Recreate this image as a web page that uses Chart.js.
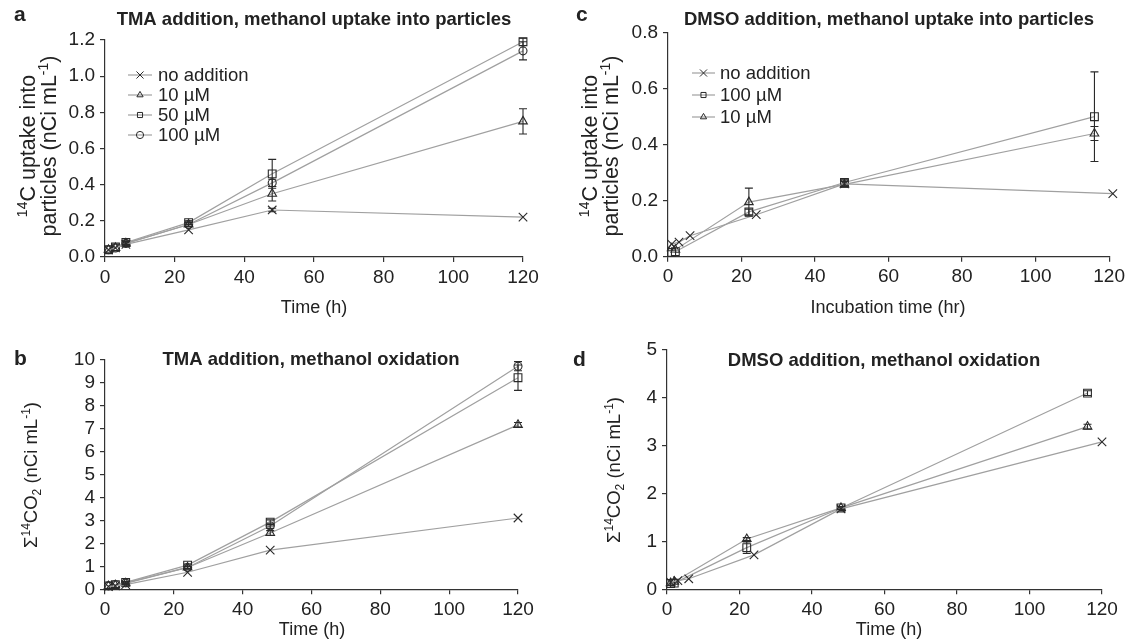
<!DOCTYPE html>
<html>
<head>
<meta charset="utf-8">
<script src="https://cdn.jsdelivr.net/npm/chart.js@4/dist/chart.umd.min.js"></script>
<style>
  html, body { margin: 0; padding: 0; background: #fff; }
  #wrap { position: relative; width: 1129px; height: 642px; }
  canvas { position: absolute; }
</style>
</head>
<body>
<div id="wrap">
  <canvas id="chartA" width="560" height="321" style="left:0;top:0"></canvas>
  <canvas id="chartC" width="569" height="321" style="left:560px;top:0"></canvas>
  <canvas id="chartB" width="560" height="321" style="left:0;top:321px"></canvas>
  <canvas id="chartD" width="569" height="321" style="left:560px;top:321px"></canvas>
</div>
<script>
// TMA experiments (panels a, b)
const tmaTimes = [1, 3, 6, 24, 48, 120];
const tmaUptakeNone = [0.04, 0.05, 0.07, 0.15, 0.26, 0.22];
const tmaUptakeNoneErr = [0, 0, 0, 0, 0.01, 0];
const tmaUptake10 = [0.04, 0.05, 0.075, 0.18, 0.35, 0.75];
const tmaUptake10Err = [0, 0, 0.01, 0.01, 0.04, 0.07];
const tmaUptake50 = [0.04, 0.055, 0.08, 0.19, 0.46, 1.19];
const tmaUptake50Err = [0, 0, 0.01, 0.01, 0.08, 0.02];
const tmaUptake100 = [0.04, 0.05, 0.075, 0.18, 0.41, 1.14];
const tmaUptake100Err = [0, 0, 0.01, 0.01, 0.02, 0.05];

const tmaOxNone = [0.12, 0.15, 0.2, 0.74, 1.7, 3.1];
const tmaOx10 = [0.14, 0.18, 0.26, 0.95, 2.45, 7.15];
const tmaOx10Err = [0, 0, 0.05, 0.05, 0.1, 0.1];
const tmaOx50 = [0.15, 0.2, 0.3, 1.05, 2.92, 9.2];
const tmaOx50Err = [0, 0, 0.05, 0.05, 0.1, 0.55];
const tmaOx100 = [0.15, 0.2, 0.28, 0.95, 2.75, 9.7];
const tmaOx100Err = [0, 0, 0.05, 0.05, 0.1, 0.2];

// DMSO experiments (panels c, d)
const noneTimes = [1, 3, 6, 24, 48, 121];
const noneTimesD = [1, 3, 6, 24, 48, 120];
const dmsoTimes = [1, 2, 22, 48, 116];
const dmsoUptakeNone = [0.045, 0.052, 0.075, 0.15, 0.26, 0.225];
const dmsoUptakeNoneErr = [0, 0, 0, 0, 0.01, 0];
const dmsoUptake100 = [0.015, 0.018, 0.16, 0.265, 0.50];
const dmsoUptake100Err = [0, 0, 0.01, 0.01, 0.16];
const dmsoUptake10 = [0.03, 0.025, 0.195, 0.258, 0.44];
const dmsoUptake10Err = [0, 0, 0.05, 0.01, 0.025];

const dmsoOxNone = [0.15, 0.18, 0.22, 0.72, 1.68, 3.08];
const dmsoOx100 = [0.12, 0.13, 0.87, 1.7, 4.1];
const dmsoOx100Err = [0, 0, 0.12, 0.03, 0.05];
const dmsoOx10 = [0.13, 0.16, 1.05, 1.7, 3.4];
const dmsoOx10Err = [0, 0, 0.03, 0.03, 0.05];

const FONT = '"Liberation Sans", Arial, Helvetica, sans-serif';
const LINE = 'rgb(160,160,160)';
const INK = '#2a2a2a';
const RADIUS = { crossRot: 6, triangle: 5, rect: 5.5, circle: 4 };

Chart.defaults.font.family = FONT;
Chart.defaults.color = '#222';

function series(label, times, values, errs, style) {
  return {
    label: label,
    data: times.map((t, i) => ({ x: t, y: values[i] })),
    errors: errs || [],
    borderColor: LINE,
    borderWidth: 1.2,
    pointStyle: style,
    pointRadius: RADIUS[style],
    pointBorderColor: INK,
    pointBorderWidth: 1.1,
    pointBackgroundColor: 'rgba(255,255,255,0)',
    tension: 0,
    clip: false
  };
}

function drawMarker(ctx, style, x, y, r) {
  ctx.beginPath();
  if (style === 'circle') {
    ctx.arc(x, y, r, 0, Math.PI * 2);
  } else if (style === 'rect') {
    const s = r * Math.SQRT1_2;
    ctx.rect(x - s, y - s, 2 * s, 2 * s);
  } else if (style === 'triangle') {
    for (let k = 0; k < 3; k++) {
      const a = -Math.PI / 2 + k * 2 * Math.PI / 3;
      const px = x + Math.cos(a) * r, py = y + Math.sin(a) * r;
      if (k === 0) ctx.moveTo(px, py); else ctx.lineTo(px, py);
    }
    ctx.closePath();
  } else {
    const d = r * Math.SQRT1_2;
    ctx.moveTo(x - d, y - d); ctx.lineTo(x + d, y + d);
    ctx.moveTo(x + d, y - d); ctx.lineTo(x - d, y + d);
  }
  ctx.stroke();
}

// text with super/subscript pieces, centred on x
function richText(ctx, parts, x, y, size) {
  const fontFor = p => (p.sup || p.sub ? Math.round(size * 0.65) : size) + 'px ' + FONT;
  let total = 0;
  parts.forEach(p => { ctx.font = fontFor(p); total += ctx.measureText(p.t).width; });
  let cx = x - total / 2;
  parts.forEach(p => {
    ctx.font = fontFor(p);
    const dy = p.sup ? -size * 0.38 : (p.sub ? size * 0.22 : 0);
    ctx.fillText(p.t, cx, y + dy);
    cx += ctx.measureText(p.t).width;
  });
}

const errorBars = {
  id: 'errorBars',
  afterDatasetsDraw(chart) {
    const ctx = chart.ctx;
    const xs = chart.scales.x, ys = chart.scales.y;
    ctx.save();
    ctx.strokeStyle = INK;
    ctx.lineWidth = 1.1;
    chart.data.datasets.forEach(ds => {
      ds.data.forEach((p, i) => {
        const e = ds.errors[i];
        if (!e) return;
        const x = xs.getPixelForValue(p.x);
        const y1 = ys.getPixelForValue(p.y + e);
        const y2 = ys.getPixelForValue(p.y - e);
        ctx.beginPath();
        ctx.moveTo(x, y1); ctx.lineTo(x, y2);
        ctx.moveTo(x - 4, y1); ctx.lineTo(x + 4, y1);
        ctx.moveTo(x - 4, y2); ctx.lineTo(x + 4, y2);
        ctx.stroke();
      });
    });
    ctx.restore();
  }
};

const deco = {
  id: 'deco',
  afterDraw(chart, args, o) {
    const ctx = chart.ctx;
    ctx.save();
    ctx.fillStyle = '#222';
    ctx.textBaseline = 'alphabetic';
    // panel letter
    ctx.textAlign = 'left';
    ctx.font = 'bold 21px ' + FONT;
    ctx.fillText(o.letter, o.letterX, o.letterY);
    // title
    ctx.textAlign = 'center';
    ctx.font = 'bold 18.5px ' + FONT;
    ctx.fillText(o.title, o.titleX, o.titleY);
    // x axis title
    ctx.font = '18px ' + FONT;
    ctx.fillText(o.xTitle, o.xTitleX, o.xTitleY);
    // y axis title, rotated
    ctx.textAlign = 'left';
    o.yLines.forEach((parts, i) => {
      ctx.save();
      ctx.translate(o.yTitleX[i], o.yTitleY);
      ctx.rotate(-Math.PI / 2);
      richText(ctx, parts, 0, 0, o.yTitleSize);
      ctx.restore();
    });
    // legend
    if (o.legend) {
      const L = o.legend;
      L.items.forEach((it, i) => {
        const y = L.y + i * L.step;
        ctx.strokeStyle = LINE;
        ctx.lineWidth = 1.2;
        ctx.beginPath();
        ctx.moveTo(L.x1, y); ctx.lineTo(L.x2, y);
        ctx.stroke();
        ctx.strokeStyle = INK;
        ctx.lineWidth = 1;
        drawMarker(ctx, it.style, (L.x1 + L.x2) / 2, y, it.style === 'crossRot' ? 5 : 3.6);
        ctx.fillStyle = '#222';
        ctx.font = '18.5px ' + FONT;
        ctx.textBaseline = 'middle';
        ctx.fillText(it.label, L.tx, y + 1);
      });
    }
    ctx.restore();
  }
};

function makeChart(id, datasets, cfg) {
  return new Chart(document.getElementById(id), {
    type: 'line',
    data: { datasets: datasets },
    options: {
      responsive: false,
      animation: false,
      layout: { padding: cfg.pad },
      plugins: {
        legend: { display: false },
        tooltip: { enabled: false },
        deco: cfg.deco
      },
      scales: {
        x: {
          type: 'linear', min: 0, max: 120,
          ticks: { stepSize: 20, font: { size: 19 }, color: '#222', padding: 4, maxRotation: 0, autoSkip: false },
          grid: { drawOnChartArea: false, tickLength: 5, color: '#333', lineWidth: 1.2 },
          border: { color: '#333', width: 1.2 },
          afterFit: s => { s.height = 30; }
        },
        y: {
          type: 'linear', min: 0, max: cfg.yMax,
          ticks: { stepSize: cfg.yStep, font: { size: 19 }, color: '#222', padding: 5, callback: cfg.fmt, autoSkip: false },
          grid: { drawOnChartArea: false, tickLength: 5, color: '#333', lineWidth: 1.2 },
          border: { color: '#333', width: 1.2 },
          afterFit: s => { s.width = 50; }
        }
      }
    },
    plugins: [errorBars, deco]
  });
}

const uptakeLines = [
  [{ t: '14', sup: true }, { t: 'C uptake into' }],
  [{ t: 'particles (nCi mL' }, { t: '-1', sup: true }, { t: ')' }]
];
const oxLine = [[{ t: '\u03A3' }, { t: '14', sup: true }, { t: 'CO' }, { t: '2', sub: true }, { t: ' (nCi mL' }, { t: '-1', sup: true }, { t: ')' }]];
const one = v => v.toFixed(1);
const whole = v => String(v);

makeChart('chartA', [
  series('no addition', tmaTimes, tmaUptakeNone, tmaUptakeNoneErr, 'crossRot'),
  series('10 \u00B5M', tmaTimes, tmaUptake10, tmaUptake10Err, 'triangle'),
  series('50 \u00B5M', tmaTimes, tmaUptake50, tmaUptake50Err, 'rect'),
  series('100 \u00B5M', tmaTimes, tmaUptake100, tmaUptake100Err, 'circle')
], {
  pad: { left: 55, right: 37, top: 40, bottom: 34 },
  yMax: 1.2, yStep: 0.2, fmt: one,
  deco: {
    letter: 'a', letterX: 14, letterY: 21,
    title: 'TMA addition, methanol uptake into particles', titleX: 314, titleY: 25,
    xTitle: 'Time (h)', xTitleX: 314, xTitleY: 313,
    yLines: uptakeLines, yTitleX: [35, 56], yTitleY: 146, yTitleSize: 21.5,
    legend: {
      x1: 128, x2: 152, tx: 158, y: 75, step: 20,
      items: [
        { label: 'no addition', style: 'crossRot' },
        { label: '10 \u00B5M', style: 'triangle' },
        { label: '50 \u00B5M', style: 'rect' },
        { label: '100 \u00B5M', style: 'circle' }
      ]
    }
  }
});

makeChart('chartC', [
  series('no addition', noneTimes, dmsoUptakeNone, dmsoUptakeNoneErr, 'crossRot'),
  series('100 \u00B5M', dmsoTimes, dmsoUptake100, dmsoUptake100Err, 'rect'),
  series('10 \u00B5M', dmsoTimes, dmsoUptake10, dmsoUptake10Err, 'triangle')
], {
  pad: { left: 58, right: 17.4, top: 32.7, bottom: 34.3 },
  yMax: 0.8, yStep: 0.2, fmt: one,
  deco: {
    letter: 'c', letterX: 16, letterY: 21,
    title: 'DMSO addition, methanol uptake into particles', titleX: 329, titleY: 25,
    xTitle: 'Incubation time (hr)', xTitleX: 328, xTitleY: 313,
    yLines: uptakeLines, yTitleX: [37, 58], yTitleY: 146, yTitleSize: 21.5,
    legend: {
      x1: 132, x2: 155, tx: 160, y: 73, step: 22,
      items: [
        { label: 'no addition', style: 'crossRot' },
        { label: '100 \u00B5M', style: 'rect' },
        { label: '10 \u00B5M', style: 'triangle' }
      ]
    }
  }
});

makeChart('chartB', [
  series('no addition', tmaTimes, tmaOxNone, null, 'crossRot'),
  series('10 \u00B5M', tmaTimes, tmaOx10, tmaOx10Err, 'triangle'),
  series('50 \u00B5M', tmaTimes, tmaOx50, tmaOx50Err, 'rect'),
  series('100 \u00B5M', tmaTimes, tmaOx100, tmaOx100Err, 'circle')
], {
  pad: { left: 55, right: 42, top: 38.3, bottom: 22.7 },
  yMax: 10, yStep: 1, fmt: whole,
  deco: {
    letter: 'b', letterX: 14, letterY: 44,
    title: 'TMA addition, methanol oxidation', titleX: 311, titleY: 44,
    xTitle: 'Time (h)', xTitleX: 312, xTitleY: 314,
    yLines: oxLine, yTitleX: [37], yTitleY: 154, yTitleSize: 18.5
  }
});

makeChart('chartD', [
  series('no addition', noneTimesD, dmsoOxNone, null, 'crossRot'),
  series('100 \u00B5M', dmsoTimes, dmsoOx100, dmsoOx100Err, 'rect'),
  series('10 \u00B5M', dmsoTimes, dmsoOx10, dmsoOx10Err, 'triangle')
], {
  pad: { left: 57, right: 27, top: 29, bottom: 22.7 },
  yMax: 5, yStep: 1, fmt: whole,
  deco: {
    letter: 'd', letterX: 13, letterY: 45,
    title: 'DMSO addition, methanol oxidation', titleX: 324, titleY: 45,
    xTitle: 'Time (h)', xTitleX: 329, xTitleY: 314,
    yLines: oxLine, yTitleX: [60], yTitleY: 149, yTitleSize: 18.5
  }
});
</script>
</body>
</html>
